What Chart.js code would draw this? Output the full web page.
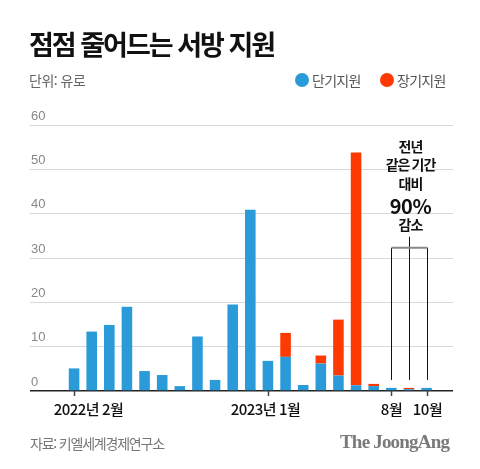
<!DOCTYPE html>
<html lang="ko">
<head>
<meta charset="utf-8">
<script src="https://cdn.jsdelivr.net/npm/chart.js@4.4.0/dist/chart.umd.min.js"></script>
<style>
  body { margin: 0; background: #fff; font-family: "Noto Sans CJK KR", sans-serif; }
  #wrap { position: relative; width: 480px; height: 469px; overflow: hidden; }
  #c { position: absolute; left: 0; top: 0; }
  .txt { position: absolute; white-space: nowrap; }
  #title { left: 29px; top: 30px; font-size: 27px; line-height: 27px; font-weight: 700; color: #111; letter-spacing: -2px; }
  #unit { left: 29px; top: 72px; font-size: 14px; line-height: 16px; color: #666; letter-spacing: -0.5px; }
  .leg { top: 72px; font-size: 14px; line-height: 16px; color: #555; letter-spacing: -0.7px; }
  .dot { position: absolute; width: 14px; height: 14px; border-radius: 50%; top: 73px; }
  #src { left: 30px; top: 435px; font-size: 14px; line-height: 16px; color: #777; letter-spacing: -1.2px; }
  #logo { left: 340px; top: 431px; font-family: "Liberation Serif", serif; font-weight: 700; font-size: 19px; line-height: 22px; color: #7a7a7a; letter-spacing: -0.8px; }
</style>
</head>
<body>
<div id="wrap">
  <canvas id="c" width="480" height="469"></canvas>
  <div class="txt" id="title">점점 줄어드는 서방 지원</div>
  <div class="txt" id="unit">단위: 유로</div>
  <div class="dot" style="left:295px; background:#2a9bd8;"></div>
  <div class="txt leg" style="left:312px;">단기지원</div>
  <div class="dot" style="left:380px; background:#ff3a00;"></div>
  <div class="txt leg" style="left:397px;">장기지원</div>
  <div class="txt" id="src">자료: 키엘세계경제연구소</div>
  <div class="txt" id="logo">The JoongAng</div>
</div>
<script>
const months = [
  "2021-12", "2022-01", "2022-02", "2022-03", "2022-04", "2022-05",
  "2022-06", "2022-07", "2022-08", "2022-09", "2022-10", "2022-11",
  "2022-12", "2023-01", "2023-02", "2023-03", "2023-04", "2023-05",
  "2023-06", "2023-07", "2023-08", "2023-09", "2023-10", "2023-11"
];
// 단기지원 (십억 유로)
const shortTerm = [null, null, 5.1, 13.4, 14.9, 19.0, 4.5, 3.6, 1.1, 12.3, 2.5, 19.5,
  40.9, 6.8, 7.7, 1.35, 6.2, 3.5, 1.3, 1.1, 0.7, 0.4, 0.7, null];
// 장기지원
const longTerm = [null, null, null, null, null, null, null, null, null, null, null, null,
  null, null, 5.4, null, 1.8, 12.6, 52.5, 0.5, null, 0.3, null, null];

const tickMonths = ["2022-02", "2023-01", "2023-08", "2023-10"];
const tickTexts = ["2022년 2월", "2023년 1월", "8월", "10월"];
const tickShift = [14, -3, 0, 0];

const noteLines = ["전년", "같은 기간", "대비", "90%", "감소"];
const noteMonths = ["2023-08", "2023-09", "2023-10"];

const BLUE = "#2a9bd8";
const RED = "#ff3a00";
const FONT = "'Noto Sans CJK KR', sans-serif";

const extras = {
  id: "extras",
  afterDraw(chart) {
    const { ctx, scales: { x, y } } = chart;
    ctx.save();

    // x 눈금과 라벨
    ctx.strokeStyle = "#444";
    ctx.lineWidth = 1.5;
    ctx.fillStyle = "#111";
    ctx.font = "500 15px " + FONT;
    ctx.letterSpacing = "-0.5px";
    ctx.textAlign = "center";
    ctx.textBaseline = "middle";
    tickMonths.forEach((m, i) => {
      const px = Math.round(x.getPixelForValue(months.indexOf(m))) + 0.5;
      ctx.beginPath();
      ctx.moveTo(px, y.bottom);
      ctx.lineTo(px, y.bottom + 5);
      ctx.stroke();
      ctx.fillText(tickTexts[i], px + tickShift[i], y.bottom + 18);
    });

    // 괄호 표시
    const xs = noteMonths.map((m) => Math.round(x.getPixelForValue(months.indexOf(m))) + 0.5);
    const yBracket = y.getPixelForValue(32.3);
    const yLow = y.getPixelForValue(2.5);
    const yMidTop = y.getPixelForValue(34.8);
    ctx.strokeStyle = "#111";
    ctx.lineWidth = 1;
    xs.forEach((px, i) => {
      ctx.beginPath();
      ctx.moveTo(px, i === 1 ? yMidTop : yBracket);
      ctx.lineTo(px, yLow);
      ctx.stroke();
    });
    ctx.strokeStyle = "#888";
    ctx.lineWidth = 2;
    ctx.beginPath();
    ctx.moveTo(xs[0], yBracket);
    ctx.lineTo(xs[2], yBracket);
    ctx.stroke();

    // 주석 텍스트
    const cx = xs[1] + 1;
    const lineY = [146.7, 165, 183.3, 206, 225];
    ctx.fillStyle = "#111";
    noteLines.forEach((t, i) => {
      if (i === 3) {
        ctx.font = "700 20px " + FONT;
        ctx.letterSpacing = "-0.5px";
      } else {
        ctx.font = "700 14px " + FONT;
        ctx.letterSpacing = "-1px";
      }
      ctx.fillText(t, cx, lineY[i]);
    });
    ctx.restore();
  }
};

new Chart(document.getElementById("c"), {
  type: "bar",
  data: {
    labels: months,
    datasets: [
      { label: "단기지원", data: shortTerm, backgroundColor: BLUE, barPercentage: 0.6, categoryPercentage: 1 },
      { label: "장기지원", data: longTerm, backgroundColor: RED, barPercentage: 0.6, categoryPercentage: 1 }
    ]
  },
  options: {
    responsive: false,
    animation: false,
    layout: { padding: { left: 28, right: 27, top: 125, bottom: 78 } },
    plugins: { legend: { display: false }, tooltip: { enabled: false } },
    scales: {
      x: {
        display: false,
        stacked: true
      },
      y: {
        stacked: true,
        min: 0,
        max: 60,
        border: { display: false },
        grid: {
          drawTicks: false,
          color: (c) => (c.tick.value === 0 ? "#222" : "#d8d8d8"),
          lineWidth: (c) => (c.tick.value === 0 ? 1.5 : 1)
        },
        ticks: {
          stepSize: 10,
          mirror: true,
          padding: 1,
          labelOffset: -9,
          color: "#888",
          font: { size: 13, family: "'Liberation Sans', Arial, sans-serif" }
        }
      }
    }
  },
  plugins: [extras]
});
</script>
</body>
</html>
